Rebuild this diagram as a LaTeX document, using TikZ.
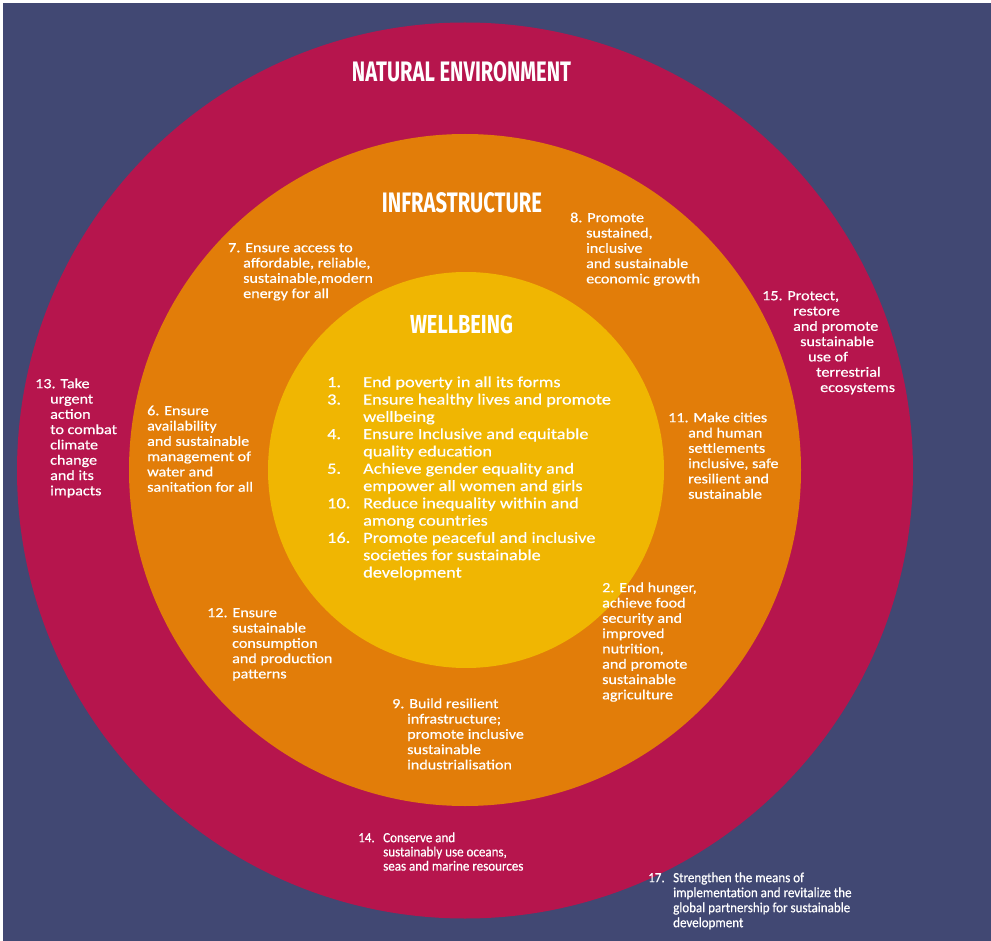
\documentclass[tikz,border=0pt]{standalone}
\usepackage{fontspec}
\usepackage{graphicx}
\setmainfont{Carlito}
\newfontfamily\bodyfont[FakeStretch=1.15,FakeBold=0.6]{Carlito}
\newfontfamily\wellfont[FakeStretch=1.18,FakeBold=0.6]{Carlito}
\newfontfamily\plainfont[FakeStretch=0.93,FakeBold=0.6]{Carlito}
\newfontfamily\titlefont{Fira Sans}
\definecolor{bgblue}{RGB}{65,72,115}
\definecolor{crimson}{RGB}{182,21,77}
\definecolor{ringorange}{RGB}{226,125,9}
\definecolor{coreyellow}{RGB}{240,182,2}
\newcommand\tstr{\rule{0pt}{12pt}}
\newcommand\ttl[3]{\resizebox{#1pt}{#2pt}{\titlefont\bfseries #3}}
\tikzset{
  blk/.style={anchor=north west, inner sep=0pt, align=left, text=white,
    font=\bodyfont\fontsize{14}{15.3}\selectfont},
  wblk/.style={anchor=north west, inner sep=0pt, align=left, text=white,
    font=\wellfont\fontsize{15.5}{17.3}\selectfont},
  pblk/.style={anchor=north west, inner sep=0pt, align=left, text=white,
    font=\plainfont\fontsize{14}{#1}\selectfont},
  ttlnode/.style={inner sep=0pt, text=white}
}
\begin{document}
\begin{tikzpicture}[x=1pt,y=-1pt]
\useasboundingbox (0,0) rectangle (991,941);
\fill[white] (0,0) rectangle (991,941);
\fill[bgblue] (3,3) rectangle (991,941);
\fill[crimson] (465,470.5) circle[radius=448pt];
\fill[ringorange] (465,470) circle[radius=336pt];
\fill[coreyellow] (466,470) circle[radius=198pt];

\node[ttlnode] (natural) at (461.5,72) {\ttl{219}{20}{NATURAL ENVIRONMENT}};
\node[ttlnode] (infra) at (462,203) {\ttl{160}{20}{INFRASTRUCTURE}};
\node[ttlnode] (well) at (461.5,324) {\ttl{103}{18.5}{WELLBEING}};

\node[wblk] (wlist) at (327,375) {\tstr\makebox[36pt][l]{1.}End poverty in all its forms\\
\makebox[36pt][l]{3.}Ensure healthy lives and promote\\
\hspace*{36pt}wellbeing\\
\makebox[36pt][l]{4.}Ensure Inclusive and equitable\\
\hspace*{36pt}quality education\\
\makebox[36pt][l]{5.}Achieve gender equality and\\
\hspace*{36pt}empower all women and girls\\
\makebox[36pt][l]{10.}Reduce inequality within and\\
\hspace*{36pt}among countries\\
\makebox[36pt][l]{16.}Promote peaceful and inclusive\\
\hspace*{36pt}societies for sustainable\\
\hspace*{36pt}development};

\node[blk] (g13) at (35,376) {\tstr 13. Take\\ \hspace*{15pt}urgent\\ \hspace*{15pt}action\\ \hspace*{15pt}to combat\\ \hspace*{15pt}climate\\ \hspace*{15pt}change\\ \hspace*{15pt}and its\\ \hspace*{15pt}impacts};

\node[blk] (g6) at (147,403) {\tstr 6. Ensure\\ availability\\ and sustainable\\ management of\\ water and\\ sanitation for all};

\node[blk] (g7) at (228,240) {\tstr 7. Ensure access to\\ \hspace*{15pt}affordable, reliable,\\ \hspace*{15pt}sustainable,modern\\ \hspace*{15pt}energy for all};

\node[blk] (g8) at (570,210) {\tstr 8. Promote\\ \hspace*{16pt}sustained,\\ \hspace*{16pt}inclusive\\ \hspace*{16pt}and sustainable\\ \hspace*{16pt}economic growth};

\node[blk] (g15) at (762,288) {\tstr 15. Protect,\\ \hspace*{31pt}restore\\ \hspace*{31pt}and promote\\ \hspace*{38pt}sustainable\\ \hspace*{46pt}use of\\ \hspace*{54pt}terrestrial\\ \hspace*{58pt}ecosystems};

\node[blk] (g11) at (668,410) {\tstr 11. Make cities\\ \hspace*{20pt}and human\\ \hspace*{20pt}settlements\\ \hspace*{20pt}inclusive, safe\\ \hspace*{20pt}resilient and\\ \hspace*{20pt}sustainable};

\node[blk] (g2) at (602,580) {\tstr 2. End hunger,\\ achieve food\\ security and\\ improved\\ nutrition,\\ and promote\\ sustainable\\ agriculture};

\node[blk] (g12) at (207,605) {\tstr 12. Ensure\\ \hspace*{25pt}sustainable\\ \hspace*{25pt}consumption\\ \hspace*{25pt}and production\\ \hspace*{25pt}patterns};

\node[blk] (g9) at (392,696) {\tstr 9. Build resilient\\ \hspace*{15pt}infrastructure;\\ \hspace*{15pt}promote inclusive\\ \hspace*{15pt}sustainable\\ \hspace*{15pt}industrialisation};

\node[pblk=14.2] (g14) at (358,830) {\tstr\makebox[25pt][l]{14.}Conserve and\\ \hspace*{25pt}sustainably use oceans,\\ \hspace*{25pt}seas and marine resources};

\node[pblk=15] (g17) at (648,870) {\tstr\makebox[25pt][l]{17.}Strengthen the means of\\ \hspace*{25pt}implementation and revitalize the\\ \hspace*{25pt}global partnership for sustainable\\ \hspace*{25pt}development};
\end{tikzpicture}
\end{document}
